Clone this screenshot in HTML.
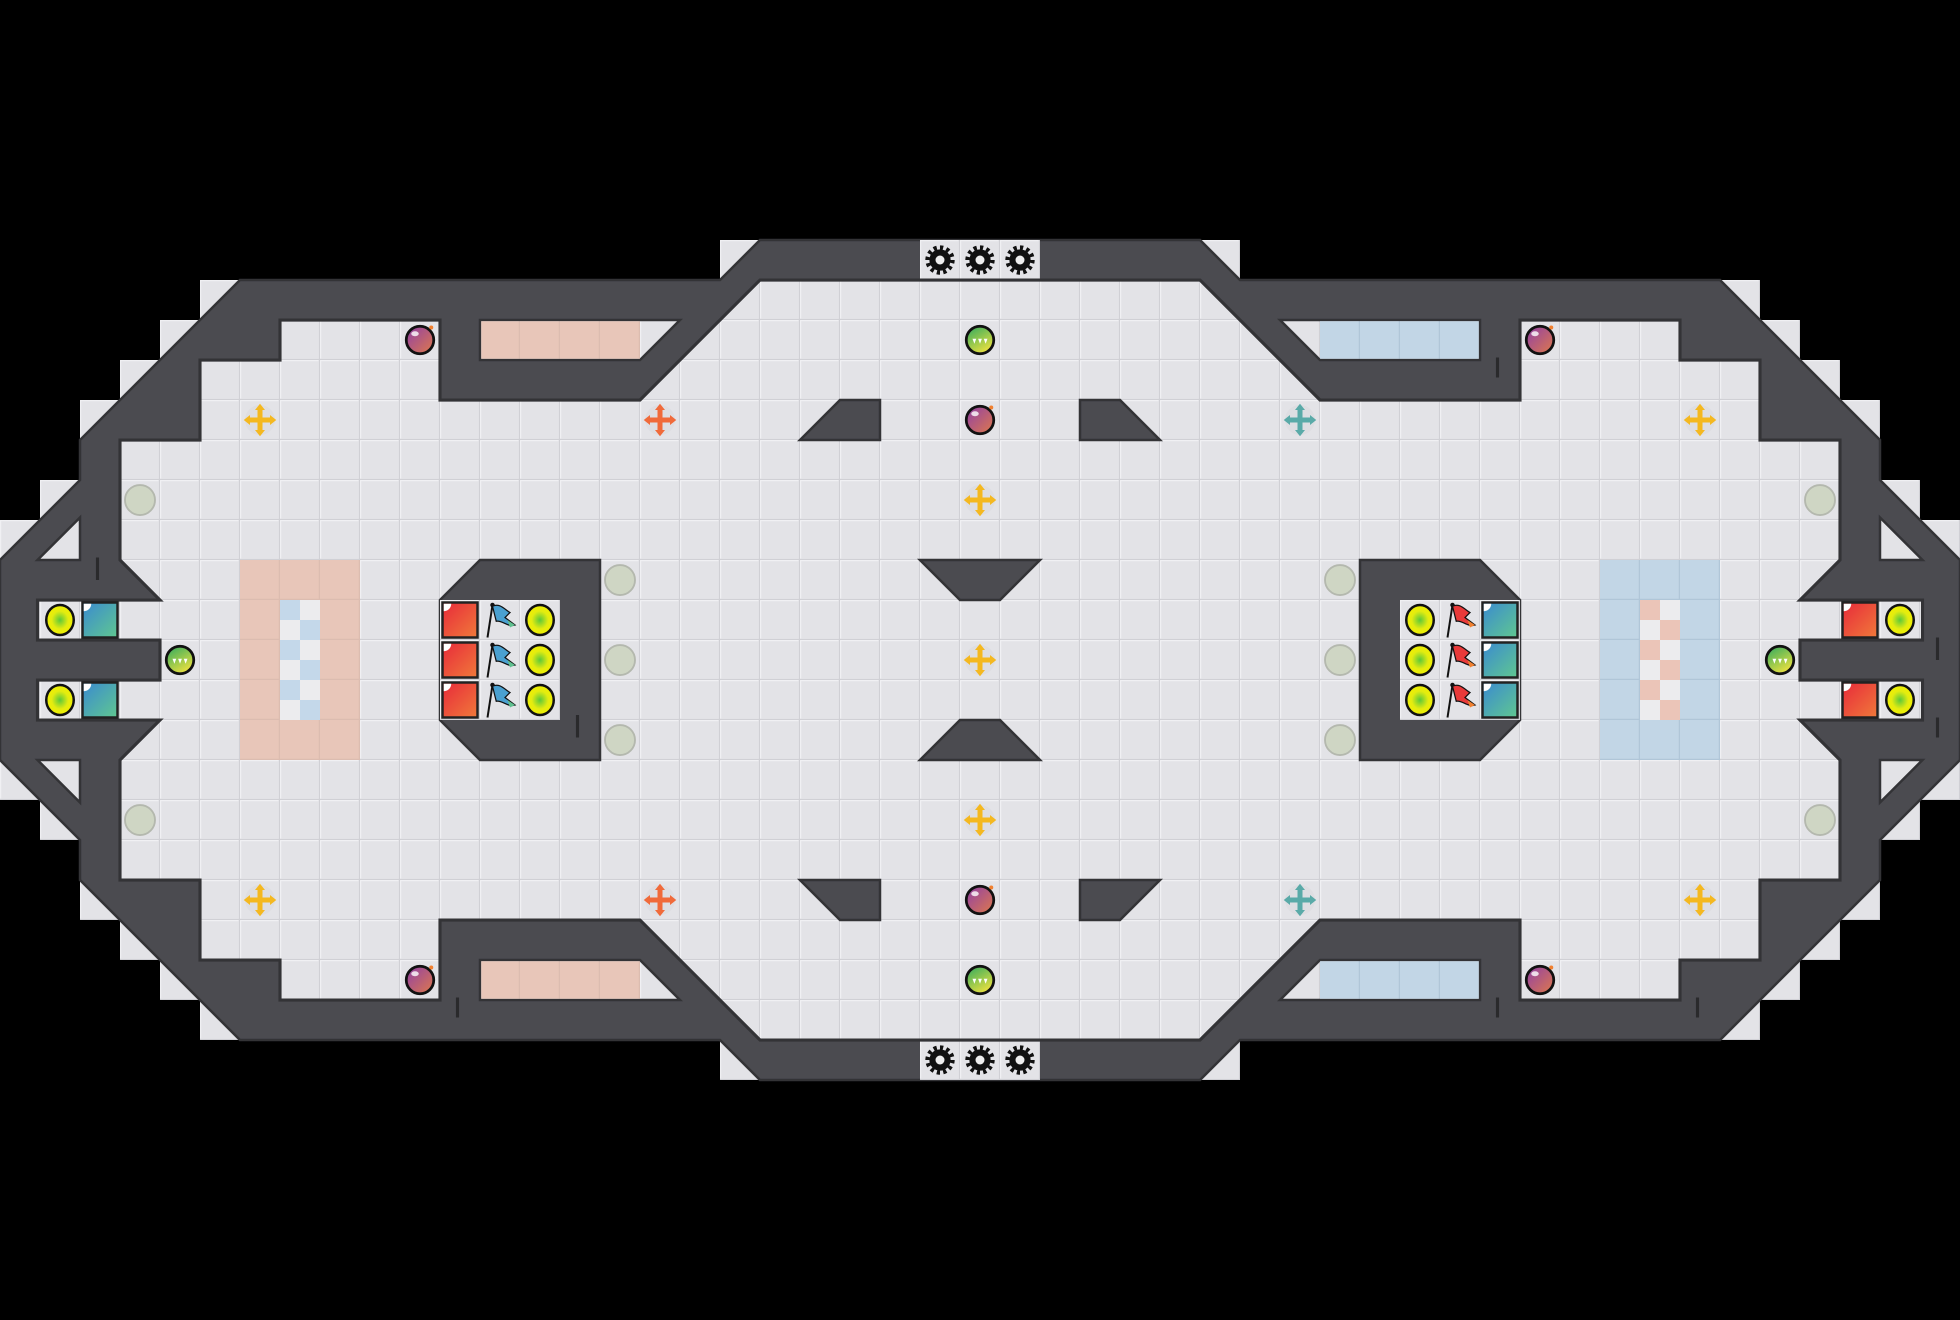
<!DOCTYPE html>
<html><head><meta charset="utf-8"><style>html,body{margin:0;padding:0;background:#000;}svg{display:block;}</style></head>
<body>
<svg width="1960" height="1320" viewBox="0 0 1568 1056" xmlns="http://www.w3.org/2000/svg">
<defs>
<pattern id="t" width="32" height="32" patternUnits="userSpaceOnUse">
<rect width="32" height="32" fill="#d0d0d5"/><rect x="0" y="0" width="31" height="31" fill="#f0f0f3"/><rect x="1" y="1" width="30" height="30" fill="#e3e3e7"/></pattern>
<pattern id="pk" width="32" height="32" patternUnits="userSpaceOnUse">
<rect width="32" height="32" fill="#dcbcb0"/><rect x="0" y="0" width="31" height="31" fill="#e8c6b9"/></pattern>
<pattern id="bl" width="32" height="32" patternUnits="userSpaceOnUse">
<rect width="32" height="32" fill="#b0c6d8"/><rect x="0" y="0" width="31" height="31" fill="#c2d6e6"/></pattern>
<pattern id="cb" width="32" height="32" patternUnits="userSpaceOnUse">
<rect width="32" height="32" fill="#ececee"/><rect width="16" height="16" fill="#c4d8ea"/><rect x="16" y="16" width="16" height="16" fill="#c4d8ea"/></pattern>
<pattern id="cp" width="32" height="32" patternUnits="userSpaceOnUse">
<rect width="32" height="32" fill="#ececee"/><rect width="16" height="16" fill="#ebc5b8"/><rect x="16" y="16" width="16" height="16" fill="#ebc5b8"/></pattern>
<linearGradient id="gb" x1="0" y1="0" x2="1" y2="1"><stop offset="0" stop-color="#8e3ea8"/><stop offset="1" stop-color="#e07a4a"/></linearGradient>
<linearGradient id="gg" x1="0" y1="0" x2="0.6" y2="1"><stop offset="0" stop-color="#2aa860"/><stop offset="1" stop-color="#e8e040"/></linearGradient>
<radialGradient id="gy"><stop offset="0" stop-color="#5cc83a"/><stop offset="0.6" stop-color="#e4ec10"/><stop offset="1" stop-color="#f0f000"/></radialGradient>
<linearGradient id="gr" x1="0" y1="0" x2="1" y2="1"><stop offset="0" stop-color="#e82a3a"/><stop offset="1" stop-color="#f07a3a"/></linearGradient>
<linearGradient id="gt" x1="0" y1="0" x2="1" y2="1"><stop offset="0" stop-color="#3a8ad0"/><stop offset="1" stop-color="#60c890"/></linearGradient>
<g id="bomb"><circle r="11" fill="url(#gb)" stroke="#111" stroke-width="2.2"/><ellipse cx="-4" cy="-5" rx="3" ry="2" fill="#fff" opacity="0.8"/><circle cx="9" cy="-10" r="1.6" fill="#f08030"/></g>
<g id="claw"><circle r="11" fill="url(#gg)" stroke="#111" stroke-width="2.2"/><path d="M-6,-1 L-3,-1 L-4.5,3 Z M-1.5,-1 L1.5,-1 L0,3 Z M3,-1 L6,-1 L4.5,3 Z" fill="#fff"/></g>
<g id="yel"><ellipse rx="11" ry="12" fill="url(#gy)" stroke="#111" stroke-width="2"/></g>
<g id="gry"><ellipse rx="12" ry="12" fill="#cfd6c4" stroke="#b4b8ae" stroke-width="1.5"/></g>
<g id="gear"><circle r="8.5" fill="#111"/><circle r="10" fill="none" stroke="#111" stroke-width="3.5" stroke-dasharray="2.6 2.6"/><circle r="3.6" fill="#eee"/></g>
<g id="red"><rect x="-14" y="-14" width="28" height="28" fill="url(#gr)" stroke="#222" stroke-width="2"/><path d="M-13,-13 h6 a6,6 0 0 1 -6,6 z" fill="#fff"/></g>
<g id="teal"><rect x="-14" y="-14" width="28" height="28" fill="url(#gt)" stroke="#222" stroke-width="2"/><path d="M-13,-13 h6 a6,6 0 0 1 -6,6 z" fill="#fff"/></g>
<g id="fb"><path d="M-10,14 L-6,-12" stroke="#111" stroke-width="1.6"/><circle cx="-6" cy="-12" r="1.8" fill="#111"/><path d="M-6,-11 C0,-14 4,-8 8,-6 L4,-2 L12,4 C6,6 2,0 -3,1 Z" fill="#4aa0d0" stroke="#111" stroke-width="1"/><path d="M6,0 L12,4 L8,6 Z" fill="#60c090"/></g>
<g id="fr"><path d="M-10,14 L-6,-12" stroke="#111" stroke-width="1.6"/><circle cx="-6" cy="-12" r="1.8" fill="#111"/><path d="M-6,-11 C0,-14 4,-8 8,-6 L4,-2 L12,4 C6,6 2,0 -3,1 Z" fill="#e83a3a" stroke="#111" stroke-width="1"/><path d="M6,0 L12,4 L8,6 Z" fill="#f08030"/></g>
<g id="cross"><circle r="12" fill="#dcdce0" opacity="0.7"/><path d="M-2,-8 h4 v6 h6 v4 h-6 v6 h-4 v-6 h-6 v-4 h6 z M0,-13 l4,5 h-8 z M0,13 l4,-5 h-8 z M-13,0 l5,4 v-8 z M13,0 l-5,4 v-8 z"/></g>
</defs>
<rect width="1568" height="1056" fill="#000"/>
<polygon fill="url(#t)" points="576,192 992,192 992,224 1408,224 1408,256 1440,256 1440,288 1472,288 1472,320 1504,320 1504,384 1536,384 1536,416 1568,416 1568,640 1536,640 1536,672 1504,672 1504,736 1472,736 1472,768 1440,768 1440,800 1408,800 1408,832 992,832 992,864 576,864 576,832 160,832 160,800 128,800 128,768 96,768 96,736 64,736 64,672 32,672 32,640 0,640 0,416 32,416 32,384 64,384 64,320 96,320 96,288 128,288 128,256 160,256 160,224 576,224"/>
<polygon fill="#4b4b50" stroke="#333336" stroke-width="2" points="608,192 960,192 992,224 1376,224 1504,352 1504,384 1568,448 1568,608 1504,672 1504,704 1376,832 992,832 960,864 608,864 576,832 192,832 64,704 64,672 0,608 0,448 64,384 64,352 192,224 576,224"/>
<rect x="736" y="192" width="96" height="32" fill="url(#t)"/>
<rect x="736" y="832" width="96" height="32" fill="url(#t)"/>
<polygon fill="url(#t)" stroke="#333336" stroke-width="2.5" points="608,224 960,224 1056,320 1216,320 1216,256 1344,256 1344,288 1408,288 1408,352 1472,352 1472,448 1440,480 1538,480 1538,512 1440,512 1440,544 1538,544 1538,576 1440,576 1472,608 1472,704 1408,704 1408,768 1344,768 1344,800 1216,800 1216,736 1056,736 960,832 608,832 512,736 352,736 352,800 224,800 224,768 160,768 160,704 96,704 96,608 128,576 30,576 30,544 128,544 128,512 30,512 30,480 128,480 96,448 96,352 160,352 160,288 224,288 224,256 352,256 352,320 512,320"/>
<!-- alcove holes -->
<g stroke="#333336" stroke-width="2">
<polygon fill="url(#t)" points="384,256 544,256 512,288 384,288"/>
<polygon fill="url(#t)" points="384,800 544,800 512,768 384,768"/>
<polygon fill="url(#t)" points="1184,256 1024,256 1056,288 1184,288"/>
<polygon fill="url(#t)" points="1184,800 1024,800 1056,768 1184,768"/>
<polygon fill="url(#t)" points="30,448 64,448 64,414"/>
<polygon fill="url(#t)" points="30,608 64,608 64,642"/>
<polygon fill="url(#t)" points="1538,448 1504,448 1504,414"/>
<polygon fill="url(#t)" points="1538,608 1504,608 1504,642"/>
</g>
<rect x="385" y="257" width="127" height="30" fill="url(#pk)"/>
<rect x="385" y="769" width="127" height="30" fill="url(#pk)"/>
<rect x="1056" y="257" width="127" height="30" fill="url(#bl)"/>
<rect x="1056" y="769" width="127" height="30" fill="url(#bl)"/>
<!-- obstacles -->
<g fill="#4b4b50" stroke="#333336" stroke-width="2">
<polygon points="640,352 672,320 704,320 704,352"/>
<polygon points="864,320 896,320 928,352 864,352"/>
<polygon points="640,704 704,704 704,736 672,736"/>
<polygon points="864,704 928,704 896,736 864,736"/>
<polygon points="736,448 832,448 800,480 768,480"/>
<polygon points="768,576 800,576 832,608 736,608"/>
<polygon points="352,480 384,448 480,448 480,608 384,608 352,576"/>
<polygon points="1216,480 1184,448 1088,448 1088,608 1184,608 1216,576"/>
</g>
<rect x="352" y="480" width="96" height="96" fill="url(#t)"/>
<rect x="1120" y="480" width="96" height="96" fill="url(#t)"/>
<g stroke="#2a2a2c" stroke-width="2.5">
<line x1="462" y1="572" x2="462" y2="590"/><line x1="1198" y1="286" x2="1198" y2="302"/>
<line x1="78" y1="446" x2="78" y2="464"/><line x1="366" y1="798" x2="366" y2="814"/>
<line x1="1198" y1="798" x2="1198" y2="814"/><line x1="1358" y1="798" x2="1358" y2="814"/>
<line x1="1550" y1="510" x2="1550" y2="528"/><line x1="1550" y1="574" x2="1550" y2="590"/>
</g>
<!-- colored floor areas -->
<rect x="192" y="448" width="96" height="160" fill="url(#pk)"/>
<rect x="224" y="480" width="32" height="96" fill="url(#cb)"/>
<rect x="1280" y="448" width="96" height="160" fill="url(#bl)"/>
<rect x="1312" y="480" width="32" height="96" fill="url(#cp)"/>
<!-- items -->
<use href="#gear" x="752" y="208"/><use href="#gear" x="784" y="208"/><use href="#gear" x="816" y="208"/>
<use href="#gear" x="752" y="848"/><use href="#gear" x="784" y="848"/><use href="#gear" x="816" y="848"/>
<use href="#bomb" x="336" y="272"/><use href="#bomb" x="784" y="336"/><use href="#bomb" x="1232" y="272"/>
<use href="#bomb" x="336" y="784"/><use href="#bomb" x="784" y="720"/><use href="#bomb" x="1232" y="784"/>
<use href="#claw" x="784" y="272"/><use href="#claw" x="784" y="784"/><use href="#claw" x="144" y="528"/><use href="#claw" x="1424" y="528"/>
<g fill="#f4b820"><use href="#cross" x="208" y="336"/><use href="#cross" x="784" y="400"/><use href="#cross" x="1360" y="336"/>
<use href="#cross" x="208" y="720"/><use href="#cross" x="784" y="656"/><use href="#cross" x="1360" y="720"/><use href="#cross" x="784" y="528"/></g>
<g fill="#f06a3a"><use href="#cross" x="528" y="336"/><use href="#cross" x="528" y="720"/></g>
<g fill="#5aaaa8"><use href="#cross" x="1040" y="336"/><use href="#cross" x="1040" y="720"/></g>
<use href="#gry" x="112" y="400"/><use href="#gry" x="112" y="656"/><use href="#gry" x="496" y="464"/><use href="#gry" x="496" y="528"/><use href="#gry" x="496" y="592"/>
<use href="#gry" x="1072" y="464"/><use href="#gry" x="1072" y="528"/><use href="#gry" x="1072" y="592"/><use href="#gry" x="1456" y="400"/><use href="#gry" x="1456" y="656"/>
<use href="#yel" x="48" y="496"/><use href="#yel" x="48" y="560"/><use href="#teal" x="80" y="496"/><use href="#teal" x="80" y="560"/>
<use href="#red" x="1488" y="496"/><use href="#red" x="1488" y="560"/><use href="#yel" x="1520" y="496"/><use href="#yel" x="1520" y="560"/>
<use href="#red" x="368" y="496"/><use href="#red" x="368" y="528"/><use href="#red" x="368" y="560"/>
<use href="#fb" x="400" y="496"/><use href="#fb" x="400" y="528"/><use href="#fb" x="400" y="560"/>
<use href="#yel" x="432" y="496"/><use href="#yel" x="432" y="528"/><use href="#yel" x="432" y="560"/>
<use href="#yel" x="1136" y="496"/><use href="#yel" x="1136" y="528"/><use href="#yel" x="1136" y="560"/>
<use href="#fr" x="1168" y="496"/><use href="#fr" x="1168" y="528"/><use href="#fr" x="1168" y="560"/>
<use href="#teal" x="1200" y="496"/><use href="#teal" x="1200" y="528"/><use href="#teal" x="1200" y="560"/>
</svg>
</body></html>
